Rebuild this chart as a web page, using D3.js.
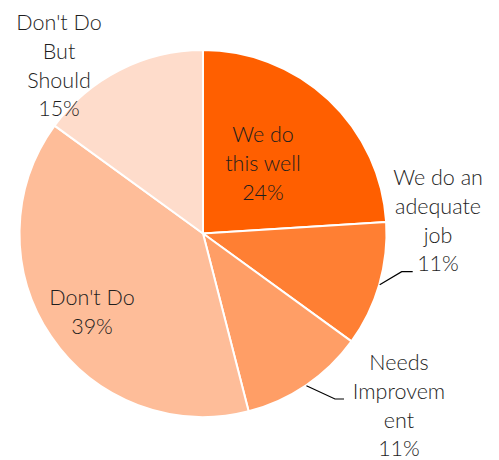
<!DOCTYPE html>
<html>
<head>
<meta charset="utf-8">
<script src="https://cdn.jsdelivr.net/npm/d3@7"></script>
<style>
  html, body { margin: 0; padding: 0; background: #fff; }
  svg text { font-family: "Lato", "Open Sans", sans-serif; font-weight: 300; fill: #1e1e1e; }
</style>
</head>
<body>
<svg id="chart" width="499" height="460"></svg>
<script>
// Survey responses, share of respondents (%)
const categories = ["We do this well", "We do an adequate job", "Needs Improvement", "Don't Do", "Don't Do But Should"];
const values = [24, 11, 11, 39, 15];
// Wrapped label text for each category
const labelLines = [
  ["We do", "this well"],
  ["We do an", "adequate", "job"],
  ["Needs", "Improvem", "ent"],
  ["Don't Do"],
  ["Don't Do", "But", "Should"]
];
const colors = ["#ff5f00", "#ff7f33", "#ff9e66", "#febd99", "#fedccb"];

const svg = d3.select("#chart");
const cx = 203, cy = 233.5, radius = 183.5;
const fontSize = 21.5, lineH = 28.8;

const g = svg.append("g").attr("transform", `translate(${cx},${cy})`);

const data = categories.map((c, i) => ({ category: c, value: values[i], lines: labelLines[i], color: colors[i] }));

const pie = d3.pie().value(d => d.value).sort(null);
const arc = d3.arc().innerRadius(0).outerRadius(radius);
const arcs = pie(data);

g.selectAll("path.slice")
  .data(arcs)
  .join("path")
  .attr("class", "slice")
  .attr("d", arc)
  .attr("fill", d => d.data.color)
  .attr("stroke", "#fff")
  .attr("stroke-width", 2)
  .attr("stroke-linejoin", "round");

// Label blocks: horizontal centre and first baseline, relative to the pie centre.
// Outside labels get a leader line from the rim (at the slice's mid angle) to an elbow.
const labelLayout = [
  { dx: 60,   y0: -91.5 },
  { dx: 235,  y0: -48.5, leader: { elbow: [198.7, 38.2], len: 11 } },
  { dx: 196,  y0: 136.5, leader: { elbow: [132, 165.5], len: 9 } },
  { dx: -111, y0: 71.5 },
  { dx: -144, y0: -203.5 }
];

arcs.forEach((a, i) => {
  const lay = labelLayout[i];
  const lines = a.data.lines.concat([`${a.data.value}%`]);

  const t = g.append("text")
    .attr("text-anchor", "middle")
    .attr("font-size", fontSize);
  lines.forEach((ln, k) => {
    t.append("tspan")
      .attr("x", lay.dx)
      .attr("y", lay.y0 + k * lineH)
      .text(ln);
  });

  if (lay.leader) {
    const mid = (a.startAngle + a.endAngle) / 2;
    const start = [Math.sin(mid) * (radius + 0.5), -Math.cos(mid) * (radius + 0.5)];
    const [ex, ey] = lay.leader.elbow;
    g.append("path")
      .attr("d", d3.line()([start, [ex, ey], [ex + lay.leader.len, ey]]))
      .attr("fill", "none")
      .attr("stroke", "#000")
      .attr("stroke-width", 1.2);
  }
});
</script>
</body>
</html>
